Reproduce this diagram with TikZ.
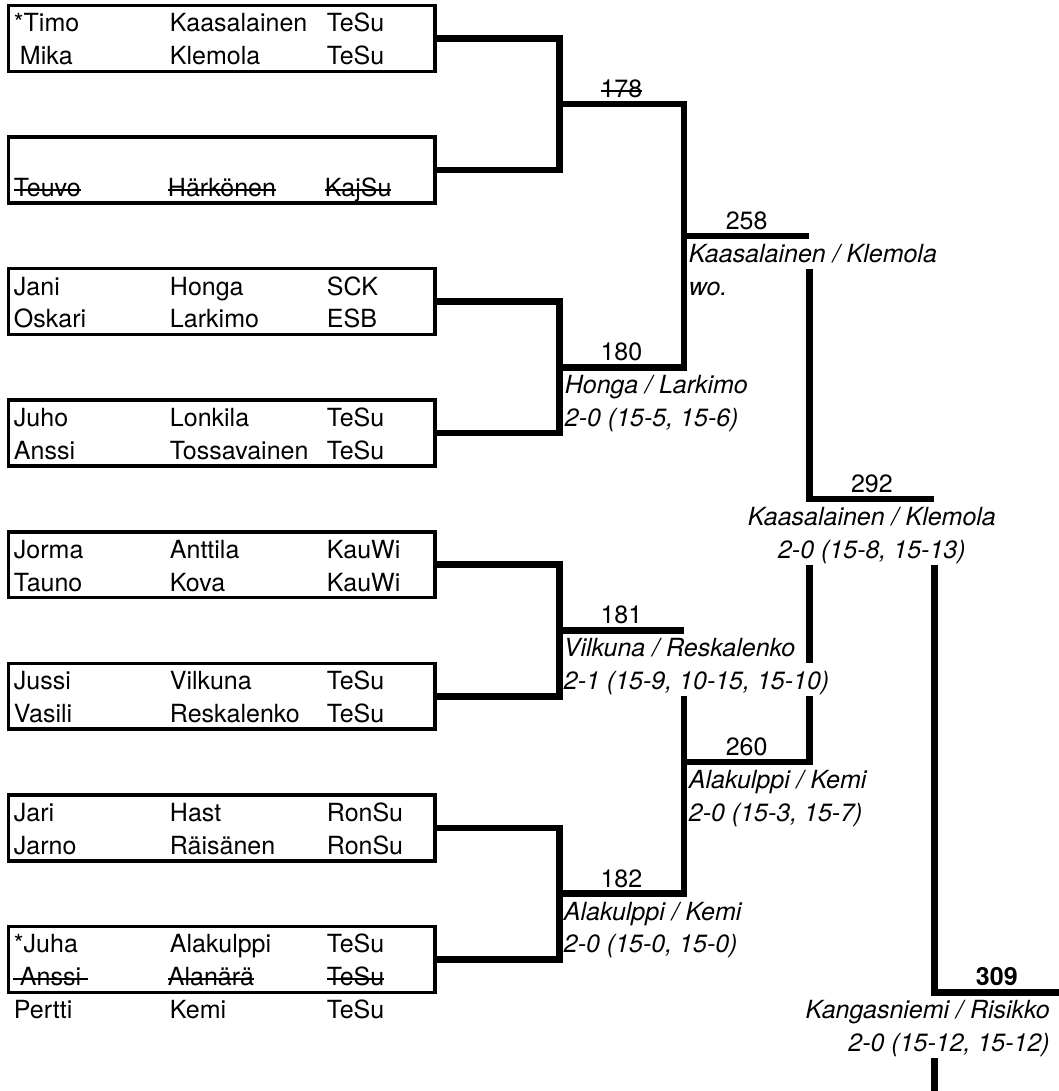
\documentclass[tikz,border=0pt]{standalone}
\usepackage{fontspec}
\setmainfont{TeX Gyre Heros}
\newcommand\fsz{\fontsize{25}{30}\selectfont}
\newcommand\strk[1]{\leavevmode\setbox0\hbox{#1}\rlap{\rule[5.6pt]{\wd0}{2pt}}\box0}
\begin{document}
\begin{tikzpicture}[x=1pt,y=-1pt,
 declare function={rt(\i)=5.5+32.9*\i; bl(\i)=32.9*(\i+1)-1;},
 txt/.style={inner sep=0pt,outer sep=0pt,font=\fsz,anchor=base west},
 ctxt/.style={txt,anchor=base},
 res/.style={txt,font=\fsz\itshape},
 cres/.style={res,anchor=base},
 rres/.style={res,anchor=base east},
 pbox/.style={draw,line width=3.5pt,inner sep=0pt,outer sep=0pt,minimum width=426.5pt,minimum height=65.8pt,anchor=north west},
 br/.style={line width=6.5pt,line join=miter}
]
\fill[white] (0,0) rectangle (1059,1091.2);
\useasboundingbox (0,0) rectangle (1059,1091.2);

% boxes
\node[pbox] (b1) at (8.5,{rt(0)}) {};
\node[pbox] (b2) at (8.5,{rt(4)}) {};
\node[pbox] (b3) at (8.5,{rt(8)}) {};
\node[pbox] (b4) at (8.5,{rt(12)}) {};
\node[pbox] (b5) at (8.5,{rt(16)}) {};
\node[pbox] (b6) at (8.5,{rt(20)}) {};
\node[pbox] (b7) at (8.5,{rt(24)}) {};
\node[pbox] (b8) at (8.5,{rt(28)}) {};

% player texts
\node[txt] (t0a) at (14,{bl(0)}) {*Timo};
\node[txt] (t0b) at (170,{bl(0)}) {Kaasalainen};
\node[txt] (t0c) at (327,{bl(0)}) {TeSu};
\node[txt] (t1a) at (20,{bl(1)}) {Mika};
\node[txt] (t1b) at (170,{bl(1)}) {Klemola};
\node[txt] (t1c) at (327,{bl(1)}) {TeSu};
\node[txt] (t5a) at (14,{bl(5)}) {\strk{Teuvo}};
\node[txt] (t5b) at (168,{bl(5)}) {\strk{Härkönen}};
\node[txt] (t5c) at (325,{bl(5)}) {\strk{KajSu}};
\node[txt] (t8a) at (14,{bl(8)}) {Jani};
\node[txt] (t8b) at (170,{bl(8)}) {Honga};
\node[txt] (t8c) at (327,{bl(8)}) {SCK};
\node[txt] (t9a) at (14,{bl(9)}) {Oskari};
\node[txt] (t9b) at (170,{bl(9)}) {Larkimo};
\node[txt] (t9c) at (327,{bl(9)}) {ESB};
\node[txt] (t12a) at (14,{bl(12)}) {Juho};
\node[txt] (t12b) at (170,{bl(12)}) {Lonkila};
\node[txt] (t12c) at (327,{bl(12)}) {TeSu};
\node[txt] (t13a) at (14,{bl(13)}) {Anssi};
\node[txt] (t13b) at (170,{bl(13)}) {Tossavainen};
\node[txt] (t13c) at (327,{bl(13)}) {TeSu};
\node[txt] (t16a) at (14,{bl(16)}) {Jorma};
\node[txt] (t16b) at (170,{bl(16)}) {Anttila};
\node[txt] (t16c) at (327,{bl(16)}) {KauWi};
\node[txt] (t17a) at (14,{bl(17)}) {Tauno};
\node[txt] (t17b) at (170,{bl(17)}) {Kova};
\node[txt] (t17c) at (327,{bl(17)}) {KauWi};
\node[txt] (t20a) at (14,{bl(20)}) {Jussi};
\node[txt] (t20b) at (170,{bl(20)}) {Vilkuna};
\node[txt] (t20c) at (327,{bl(20)}) {TeSu};
\node[txt] (t21a) at (14,{bl(21)}) {Vasili};
\node[txt] (t21b) at (170,{bl(21)}) {Reskalenko};
\node[txt] (t21c) at (327,{bl(21)}) {TeSu};
\node[txt] (t24a) at (14,{bl(24)}) {Jari};
\node[txt] (t24b) at (170,{bl(24)}) {Hast};
\node[txt] (t24c) at (327,{bl(24)}) {RonSu};
\node[txt] (t25a) at (14,{bl(25)}) {Jarno};
\node[txt] (t25b) at (170,{bl(25)}) {Räisänen};
\node[txt] (t25c) at (327,{bl(25)}) {RonSu};
\node[txt] (t28a) at (14,{bl(28)}) {*Juha};
\node[txt] (t28b) at (170,{bl(28)}) {Alakulppi};
\node[txt] (t28c) at (327,{bl(28)}) {TeSu};
\node[txt] (t29a) at (13,{bl(29)}) {\strk{\ Anssi\ }};
\node[txt] (t29b) at (168,{bl(29)}) {\strk{Alanärä}};
\node[txt] (t29c) at (327,{bl(29)}) {\strk{TeSu}};
\node[txt] (t30a) at (14,{bl(30)}) {Pertti};
\node[txt] (t30b) at (170,{bl(30)}) {Kemi};
\node[txt] (t30c) at (327,{bl(30)}) {TeSu};

% match points
\coordinate (m178) at (559.5,{rt(3)});
\coordinate (m180) at (559.5,{rt(11)});
\coordinate (m181) at (559.5,{rt(19)});
\coordinate (m182) at (559.5,{rt(27)});
\coordinate (m258) at (684,{rt(7)});
\coordinate (m260) at (684,{rt(23)});
\coordinate (m292) at (809.5,{rt(15)});
\coordinate (m309) at (934.5,{rt(30)});
\coordinate (c8) at (809.5,{rt(8)});
\coordinate (c17) at (809.5,{rt(17)});
\coordinate (c20) at (809.5,{rt(20)});
\coordinate (c21) at (809.5,{rt(21)});
\coordinate (d17) at (934.5,{rt(17)});
\coordinate (d32) at (934.5,{rt(32)});
\coordinate (dend) at (934.5,1091.2);
\coordinate (e30) at (1059,{rt(30)});
\coordinate (b21) at (684,{rt(21)});

% bracket lines
\draw[br] (b1.east) -- (b1.east -| m178) -- (b2.east -| m178) -- (b2.east);
\draw[br] (b3.east) -- (b3.east -| m180) -- (b4.east -| m180) -- (b4.east);
\draw[br] (b5.east) -- (b5.east -| m181) -- (b6.east -| m181) -- (b6.east);
\draw[br] (b7.east) -- (b7.east -| m182) -- (b8.east -| m182) -- (b8.east);
\draw[br] (m178) -- (m178 -| m258) -- (m180 -| m258) -- (m180);
\draw[br] (m258) -- (m258 -| m292);
\draw[br] (c8) -- (m292) -- (m292 -| m309);
\draw[br] (c17) -- (c20);
\draw[br] (c21) -- (m260 -| m292) -- (m260);
\draw[br] (m181) -- (m181 -| m260);
\draw[br] (b21) -- (m182 -| m260) -- (m182);
\draw[br] (d17) -- (m309) -- (e30);
\draw[br] (d32) -- (dend);

% match labels
\node[ctxt] (l178) at (621.5,{bl(2)}) {\strk{178}};
\node[ctxt] (l180) at (621.5,{bl(10)}) {180};
\node[res] (r180a) at (565,{bl(11)}) {Honga / Larkimo};
\node[res] (r180b) at (565,{bl(12)}) {2-0 (15-5, 15-6)};
\node[ctxt] (l258) at (746.75,{bl(6)}) {258};
\node[res] (r258a) at (689,{bl(7)}) {Kaasalainen / Klemola};
\node[res] (r258b) at (689,{bl(8)}) {wo.};
\node[ctxt] (l181) at (621.5,{bl(18)}) {181};
\node[res] (r181a) at (564,{bl(19)}) {Vilkuna / Reskalenko};
\node[res] (r181b) at (564,{bl(20)}) {2-1 (15-9, 10-15, 15-10)};
\node[ctxt] (l260) at (746.75,{bl(22)}) {260};
\node[res] (r260a) at (689,{bl(23)}) {Alakulppi / Kemi};
\node[res] (r260b) at (689,{bl(24)}) {2-0 (15-3, 15-7)};
\node[ctxt] (l182) at (621.5,{bl(26)}) {182};
\node[res] (r182a) at (564,{bl(27)}) {Alakulppi / Kemi};
\node[res] (r182b) at (564,{bl(28)}) {2-0 (15-0, 15-0)};
\node[ctxt] (l292) at (872,{bl(14)}) {292};
\node[cres] (r292a) at (872,{bl(15)}) {Kaasalainen / Klemola};
\node[cres] (r292b) at (872,{bl(16)}) {2-0 (15-8, 15-13)};
\node[ctxt,font=\fsz\bfseries] (l309) at (997,{bl(29)}) {309};
\node[rres] (r309a) at (1050,{bl(30)}) {Kangasniemi / Risikko};
\node[rres] (r309b) at (1050,{bl(31)}) {2-0 (15-12, 15-12)};
\end{tikzpicture}
\end{document}
